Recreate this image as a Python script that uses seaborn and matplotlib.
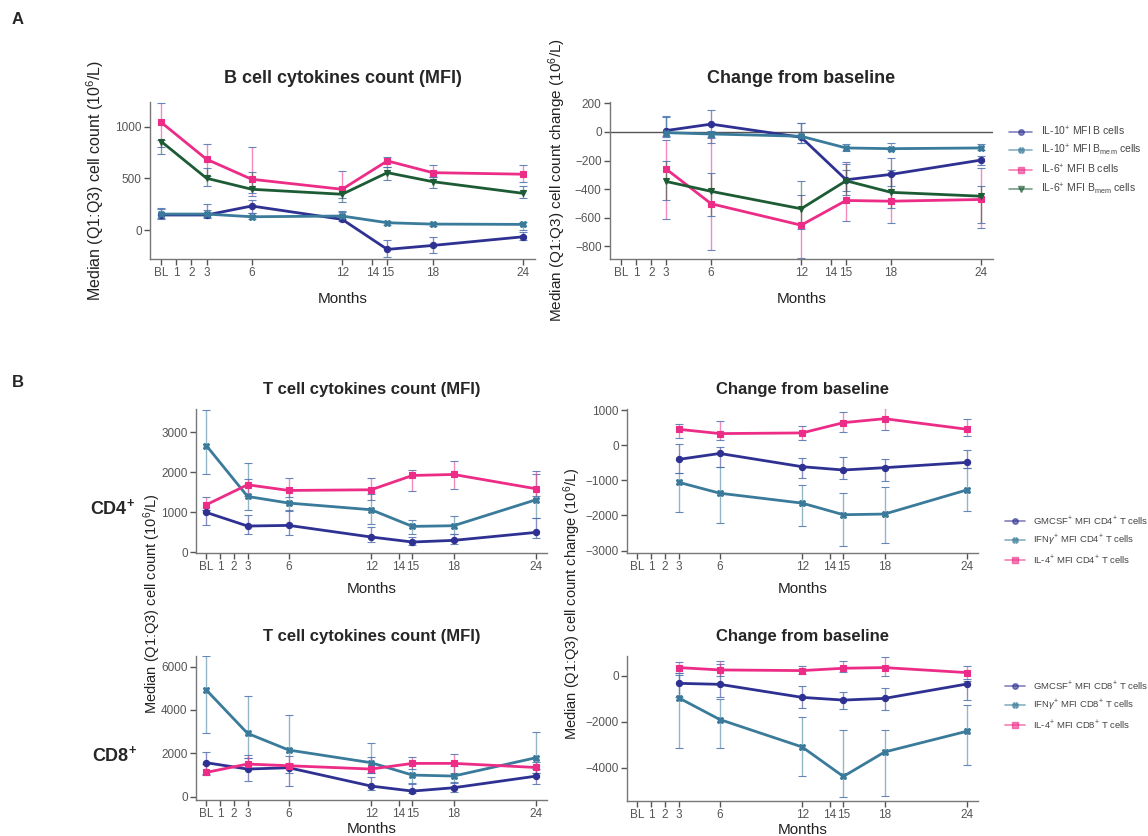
import matplotlib
matplotlib.use("Agg")
import matplotlib.pyplot as plt
from matplotlib.lines import Line2D
import pandas as pd
import seaborn as sns

sns.set_theme(style="ticks")
plt.rcParams['font.family'] = ['Liberation Sans', 'DejaVu Sans']
plt.rcParams['mathtext.fontset'] = 'custom'
plt.rcParams['mathtext.rm'] = 'Liberation Sans'
plt.rcParams['mathtext.it'] = 'Liberation Sans:italic'
plt.rcParams['mathtext.bf'] = 'Liberation Sans:bold'

## x axis
tick_months = [0, 1, 2, 3, 6, 12, 14, 15, 18, 24]
tick_labels = ['BL', '1', '2', '3', '6', '12', '14', '15', '18', '24']
months_cnt = [0, 3, 6, 12, 15, 18, 24]
months_chg = [3, 6, 12, 15, 18, 24]

## A: B cell cytokines, count (median, Q1, Q3)
il10b_med = [146, 146, 233, 104, -187, -149, -65]
il10b_q1 = [104, 113, 162, 90, -265, -220, -97]
il10b_q3 = [200, 252, 291, 178, -97, -71, -16]
il10m_med = [155, 155, 129, 136, 71, 58, 55]
il10m_q1 = [113, 123, 104, 104, 51, 43, 0]
il10m_q3 = [210, 194, 162, 187, 90, 73, 81]
il6b_med = [1042, 686, 492, 395, 670, 556, 541]
il6b_q1 = [803, 520, 330, 308, 615, 518, 463]
il6b_q3 = [1230, 835, 809, 573, 712, 628, 628]
il6m_med = [857, 502, 395, 347, 556, 469, 356]
il6m_q1 = [735, 427, 356, 275, 485, 405, 314]
il6m_q3 = [874, 599, 560, 420, 615, 518, 427]

## A: change from baseline
il10b_chg = [10, 55, -37, -335, -297, -197]
il10b_chg_q1 = [-35, -40, -78, -411, -381, -232]
il10b_chg_q3 = [112, 151, 60, -266, -181, -170]
il10m_chg = [-5, -14, -30, -112, -117, -112]
il10m_chg_q1 = [-30, -76, -78, -135, -128, -128]
il10m_chg_q3 = [105, 9, 62, -82, -76, -82]
il6b_chg = [-260, -503, -653, -480, -485, -473]
il6b_chg_q1 = [-611, -825, -880, -623, -641, -676]
il6b_chg_q3 = [-55, -37, -439, -209, -301, -255]
il6m_chg = [-347, -416, -538, -342, -423, -450]
il6m_chg_q1 = [-480, -588, -680, -439, -531, -635]
il6m_chg_q3 = [-204, -290, -342, -221, -266, -381]

## B: CD4+ count
gm4_med = [991, 650, 666, 375, 250, 291, 491]
gm4_q1 = [666, 458, 416, 241, 183, 208, 350]
gm4_q3 = [1050, 933, 1041, 616, 375, 458, 850]
ifn4_med = [2666, 1391, 1225, 1058, 641, 658, 1308]
ifn4_q1 = [1958, 1041, 1016, 708, 458, 458, 850]
ifn4_q3 = [3558, 2225, 1575, 1458, 808, 908, 1950]
il4c4_med = [1183, 1683, 1541, 1558, 1916, 1941, 1583]
il4c4_q1 = [1041, 1408, 1375, 1291, 1516, 1583, 1391]
il4c4_q3 = [1375, 1833, 1850, 1850, 2058, 2266, 2016]

## B: CD4+ change
gm4_chg = [-405, -236, -613, -707, -641, -490]
gm4_chg_q1 = [-801, -613, -924, -962, -1009, -641]
gm4_chg_q3 = [47, -47, -358, -349, -396, -141]
ifn4_chg = [-1056, -1367, -1650, -1980, -1961, -1273]
ifn4_chg_q1 = [-1914, -2216, -2292, -2876, -2782, -1886]
ifn4_chg_q3 = [-801, -613, -1132, -1367, -1179, -641]
il4c4_chg = [453, 330, 349, 641, 754, 453]
il4c4_chg_q1 = [217, 141, 160, 377, 443, 264]
il4c4_chg_q3 = [613, 679, 547, 934, 1056, 754]

## B: CD8+ count
gm8_med = [1569, 1277, 1338, 492, 261, 415, 950]
gm8_q1 = [1046, 723, 508, 308, 185, 231, 600]
gm8_q3 = [2046, 1800, 1538, 892, 584, 692, 1300]
ifn8_med = [4923, 2923, 2154, 1569, 1000, 954, 1800]
ifn8_q1 = [2954, 1769, 1508, 1077, 615, 615, 1100]
ifn8_q3 = [6491, 4646, 3769, 2492, 1508, 1430, 3000]
il4c8_med = [1123, 1508, 1430, 1277, 1538, 1538, 1350]
il4c8_q1 = [1000, 1261, 1107, 1107, 1261, 1107, 1100]
il4c8_q3 = [1492, 1923, 1877, 1846, 1815, 1969, 1600]

## B: CD8+ change
gm8_chg = [-321, -365, -934, -1051, -978, -350]
gm8_chg_q1 = [-934, -934, -1416, -1460, -1489, -1051]
gm8_chg_q3 = [50, 526, -438, -715, -540, -219]
ifn8_chg = [-949, -1898, -3095, -4380, -3314, -2409]
ifn8_chg_q1 = [-3124, -3124, -4365, -5285, -5241, -3898]
ifn8_chg_q3 = [117, -1022, -1781, -2336, -2336, -1270]
il4c8_chg = [365, 263, 234, 336, 365, 146]
il4c8_chg_q1 = [117, 0, 88, 190, 0, -146]
il4c8_chg_q3 = [599, 657, 438, 657, 847, 453]

NAVY = '#2E3192'
TEAL = '#3A7A9A'
PINK = '#EC2C86'
GREEN = '#1D5B35'
GREY = '#555555'


def draw_panel(ax, months, series, ylim, yticks):
	## series: list of (name, med, q1, q3, colour, marker)
	rows = []
	for name, med, q1, q3, col, mk in series:
		for m, v in zip(months, med):
			rows.append({'month': m, 'value': v, 'series': name})
	df = pd.DataFrame(rows)
	order = [s[0] for s in series]
	pal = {s[0]: s[4] for s in series}
	mks = {s[0]: s[5] for s in series}

	## whiskers first so lines sit on top
	for name, med, q1, q3, col, mk in series:
		lo = [v - a for v, a in zip(med, q1)]
		hi = [b - v for v, b in zip(med, q3)]
		eb = ax.errorbar(months, med, yerr=[lo, hi], fmt='none', ecolor=col,
						 elinewidth=1, capsize=3, capthick=1.3, zorder=2)
		eb[2][0].set_alpha(0.55)
		for c in eb[1]:
			c.set_alpha(0.85)

	sns.lineplot(data=df, x='month', y='value', hue='series', style='series',
				 hue_order=order, style_order=order, palette=pal, markers=mks,
				 dashes=False, linewidth=2, markersize=4.5, legend=False, ax=ax, zorder=3)
	for ln in ax.lines:
		if ln.get_marker() not in (None, 'None', ''):
			ln.set_markeredgecolor(ln.get_color())
			ln.set_markeredgewidth(0.8)

	## axis style
	ax.set_xlim(-0.75, 24.8)
	ax.set_xticks(tick_months)
	ax.set_xticklabels(tick_labels)
	ax.set_ylim(*ylim)
	ax.set_yticks(yticks)
	ax.set_xlabel('Months', fontsize=11, color='#222222')
	ax.set_ylabel('')
	ax.tick_params(axis='both', labelsize=8.5, colors=GREY, length=4, width=1, pad=2)
	for sp in ['left', 'bottom']:
		ax.spines[sp].set_color('#777777')
		ax.spines[sp].set_linewidth(1)
	sns.despine(ax=ax)


def legend_handles(series):
	hs = []
	for name, med, q1, q3, col, mk in series:
		hs.append(Line2D([0], [0], color=col, alpha=0.6, lw=1.2, marker=mk,
						 markersize=4, markerfacecolor=col, markeredgecolor=col))
	return hs


W, H = 1148, 836
fig = plt.figure(figsize=(W / 100, H / 100), dpi=100)


def add_ax(x0, x1, top, bottom):
	return fig.add_axes([x0 / W, 1 - bottom / H, (x1 - x0) / W, (bottom - top) / H])


## --- Panel A ---
a_cnt = [
	(r'IL-10$^{+}$ MFI B cells', il10b_med, il10b_q1, il10b_q3, NAVY, 'o'),
	(r'IL-10$^{+}$ MFI B$_{\mathrm{mem}}$ cells', il10m_med, il10m_q1, il10m_q3, TEAL, 'X'),
	(r'IL-6$^{+}$ MFI B cells', il6b_med, il6b_q1, il6b_q3, PINK, 's'),
	(r'IL-6$^{+}$ MFI B$_{\mathrm{mem}}$ cells', il6m_med, il6m_q1, il6m_q3, GREEN, 'v'),
]
a_chg = [
	(a_cnt[0][0], il10b_chg, il10b_chg_q1, il10b_chg_q3, NAVY, 'o'),
	(a_cnt[1][0], il10m_chg, il10m_chg_q1, il10m_chg_q3, TEAL, 'X'),
	(a_cnt[2][0], il6b_chg, il6b_chg_q1, il6b_chg_q3, PINK, 's'),
	(a_cnt[3][0], il6m_chg, il6m_chg_q1, il6m_chg_q3, GREEN, 'v'),
]

ax1 = add_ax(150, 535, 102, 259)
draw_panel(ax1, months_cnt, a_cnt, (-280, 1240), [0, 500, 1000])
ax1.set_title('B cell cytokines count (MFI)', fontsize=13, fontweight='bold', pad=14)
ax1.set_ylabel(r'Median (Q1:Q3) cell count (10$^{6}$/L)', fontsize=11.5, color='#222222')
ax1.yaxis.set_label_coords(-0.115, 0.5)
ax1.xaxis.set_label_coords(0.5, -0.21)

ax2 = add_ax(610, 993, 102, 259)
ax2.axhline(0, color='#555555', lw=1, zorder=1)
draw_panel(ax2, months_chg, a_chg, (-890, 210), [-800, -600, -400, -200, 0, 200])
ax2.set_title('Change from baseline', fontsize=13, fontweight='bold', pad=14)
ax2.set_ylabel(r'Median (Q1:Q3) cell count change (10$^{6}$/L)', fontsize=11, color='#222222')
ax2.yaxis.set_label_coords(-0.11, 0.5)
ax2.xaxis.set_label_coords(0.5, -0.21)

fig.legend(legend_handles(a_cnt), [s[0] for s in a_cnt], loc='upper left',
		   bbox_to_anchor=(1000 / W, 1 - 115 / H), frameon=False, fontsize=7.5,
		   handlelength=2.2, labelspacing=0.5, labelcolor='#444444')

## --- Panel B ---
b4_cnt = [
	(r'GMCSF$^{+}$ MFI CD4$^{+}$ T cells', gm4_med, gm4_q1, gm4_q3, NAVY, 'o'),
	(r'IFN$\gamma^{+}$ MFI CD4$^{+}$ T cells', ifn4_med, ifn4_q1, ifn4_q3, TEAL, 'X'),
	(r'IL-4$^{+}$ MFI CD4$^{+}$ T cells', il4c4_med, il4c4_q1, il4c4_q3, PINK, 's'),
]
b4_chg = [
	(b4_cnt[0][0], gm4_chg, gm4_chg_q1, gm4_chg_q3, NAVY, 'o'),
	(b4_cnt[1][0], ifn4_chg, ifn4_chg_q1, ifn4_chg_q3, TEAL, 'X'),
	(b4_cnt[2][0], il4c4_chg, il4c4_chg_q1, il4c4_chg_q3, PINK, 's'),
]
b8_cnt = [
	(r'GMCSF$^{+}$ MFI CD8$^{+}$ T cells', gm8_med, gm8_q1, gm8_q3, NAVY, 'o'),
	(r'IFN$\gamma^{+}$ MFI CD8$^{+}$ T cells', ifn8_med, ifn8_q1, ifn8_q3, TEAL, 'X'),
	(r'IL-4$^{+}$ MFI CD8$^{+}$ T cells', il4c8_med, il4c8_q1, il4c8_q3, PINK, 's'),
]
b8_chg = [
	(b8_cnt[0][0], gm8_chg, gm8_chg_q1, gm8_chg_q3, NAVY, 'o'),
	(b8_cnt[1][0], ifn8_chg, ifn8_chg_q1, ifn8_chg_q3, TEAL, 'X'),
	(b8_cnt[2][0], il4c8_chg, il4c8_chg_q1, il4c8_chg_q3, PINK, 's'),
]

ax3 = add_ax(196, 547, 409, 553)
draw_panel(ax3, months_cnt, b4_cnt, (-25, 3580), [0, 1000, 2000, 3000])
ax3.set_title('T cell cytokines count (MFI)', fontsize=12, fontweight='bold', pad=11)
ax3.xaxis.set_label_coords(0.5, -0.2)

ax4 = add_ax(627, 978, 409, 553)
draw_panel(ax4, months_chg, b4_chg, (-3070, 1030), [-3000, -2000, -1000, 0, 1000])
ax4.set_title('Change from baseline', fontsize=12, fontweight='bold', pad=11)
ax4.xaxis.set_label_coords(0.5, -0.2)

ax5 = add_ax(196, 547, 656, 800)
draw_panel(ax5, months_cnt, b8_cnt, (-150, 6490), [0, 2000, 4000, 6000])
ax5.set_title('T cell cytokines count (MFI)', fontsize=12, fontweight='bold', pad=11)
ax5.xaxis.set_label_coords(0.5, -0.15)

ax6 = add_ax(627, 978, 656, 801)
draw_panel(ax6, months_chg, b8_chg, (-5450, 870), [-4000, -2000, 0])
ax6.set_title('Change from baseline', fontsize=12, fontweight='bold', pad=11)
ax6.xaxis.set_label_coords(0.5, -0.15)

fig.legend(legend_handles(b4_cnt), [s[0] for s in b4_cnt], loc='upper left',
		   bbox_to_anchor=(996 / W, 1 - 506 / H), frameon=False, fontsize=6.8,
		   handlelength=2.2, labelspacing=0.6, handletextpad=0.8, labelcolor='#444444')
fig.legend(legend_handles(b8_cnt), [s[0] for s in b8_cnt], loc='upper left',
		   bbox_to_anchor=(996 / W, 1 - 671 / H), frameon=False, fontsize=6.8,
		   handlelength=2.2, labelspacing=0.6, handletextpad=0.8, labelcolor='#444444')

## shared y labels for B
fig.text(152 / W, 1 - 604 / H, r'Median (Q1:Q3) cell count (10$^{6}$/L)', rotation=90,
		 ha='center', va='center', fontsize=10.5, color='#222222')
fig.text(572 / W, 1 - 604 / H, r'Median (Q1:Q3) cell count change (10$^{6}$/L)', rotation=90,
		 ha='center', va='center', fontsize=10.5, color='#222222')

## panel letters and row labels
fig.text(12 / W, 1 - 20 / H, 'A', fontsize=12, fontweight='bold', va='center')
fig.text(12 / W, 1 - 383 / H, 'B', fontsize=12, fontweight='bold', va='center')
fig.text(90 / W, 1 - 508 / H, r'CD4$^{\mathbf{+}}$', fontsize=13, fontweight='bold', va='center')
fig.text(92 / W, 1 - 755 / H, r'CD8$^{\mathbf{+}}$', fontsize=13, fontweight='bold', va='center')

fig.savefig('out.png', dpi=100)
